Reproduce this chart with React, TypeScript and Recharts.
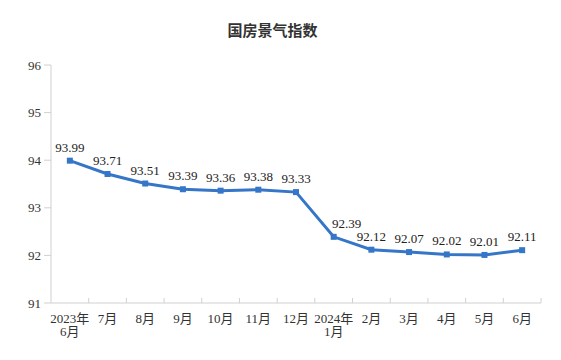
import React from 'react';
import { LineChart, Line, XAxis, YAxis, LabelList } from 'recharts';

const categories = ['2023年\n6月', '7月', '8月', '9月', '10月', '11月', '12月', '2024年\n1月', '2月', '3月', '4月', '5月', '6月'];
const values = [93.99, 93.71, 93.51, 93.39, 93.36, 93.38, 93.33, 92.39, 92.12, 92.07, 92.02, 92.01, 92.11];
const yTicks = [91, 92, 93, 94, 95, 96];

const data = categories.map((c, i) => ({ name: c, value: values[i] }));

const SERIF = '"Liberation Serif", "Times New Roman", "Noto Sans CJK SC", serif';
const AXIS = '#d0d0d0';
const BLUE = '#3676c8';
const HALF_BAND = 18.85;
const LABEL_DX: Record<number, number> = { 7: 13 };

const XTick = (props: any) => {
  const { x, y, payload } = props;
  const lines = String(payload.value).split('\n');
  return (
    <g>
      <line x1={x + HALF_BAND} x2={x + HALF_BAND} y1={y - 5} y2={y} stroke={AXIS} strokeWidth={1} />
      <text x={x} y={y + 19.5} textAnchor="middle" fontFamily={SERIF} fontSize={13} fill="#333">
        {lines.map((l, i) => (
          <tspan key={i} x={x} dy={i === 0 ? 0 : 13.5}>{l}</tspan>
        ))}
      </text>
    </g>
  );
};

const SquareDot = (props: any) => {
  const { cx, cy } = props;
  if (cx == null || cy == null) return null;
  return <rect x={cx - 3} y={cy - 3} width={6} height={6} fill={BLUE} />;
};

const ValueLabel = (props: any) => {
  const { x, y, width, value, index } = props;
  const cx = x + (width || 0) / 2 + (LABEL_DX[index] || 0);
  return (
    <text x={cx} y={y - 9} textAnchor="middle" fontFamily={SERIF} fontSize={13} fill="#222">
      {Number(value).toFixed(2)}
    </text>
  );
};

export default function App() {
  return (
    <div style={{ position: 'absolute', left: 0, top: 0, width: 561, height: 360, background: '#fff' }}>
      <div style={{ position: 'absolute', left: 0, width: 545, top: 19, textAlign: 'center', fontFamily: '"Noto Sans CJK SC", sans-serif', fontWeight: 'bold', fontSize: 15, color: '#333' }}>
        国房景气指数
      </div>
      <LineChart width={561} height={360} data={data} margin={{ top: 65, right: 20, bottom: 17, left: 0 }}>
        <XAxis dataKey="name" scale="band" interval={0} height={40} axisLine={{ stroke: AXIS }} tickLine={false} tickSize={0} tickMargin={0} tick={<XTick />} />
        <XAxis xAxisId="top" dataKey="name" orientation="top" scale="band" axisLine={{ stroke: AXIS }} tickLine={false} tick={false} height={0} />
        <YAxis domain={[91, 96]} ticks={yTicks} width={51} axisLine={{ stroke: AXIS }} tickLine={{ stroke: AXIS }} tickSize={7} tickMargin={3} tick={{ fontFamily: SERIF, fontSize: 13, fill: '#333' }} />
        <YAxis yAxisId="right" orientation="right" domain={[91, 96]} width={0} axisLine={{ stroke: AXIS }} tickLine={false} tick={false} />
        <Line type="linear" dataKey="value" stroke={BLUE} strokeWidth={3} dot={<SquareDot />} activeDot={false} isAnimationActive={false}>
          <LabelList dataKey="value" content={<ValueLabel />} />
        </Line>
      </LineChart>
    </div>
  );
}
